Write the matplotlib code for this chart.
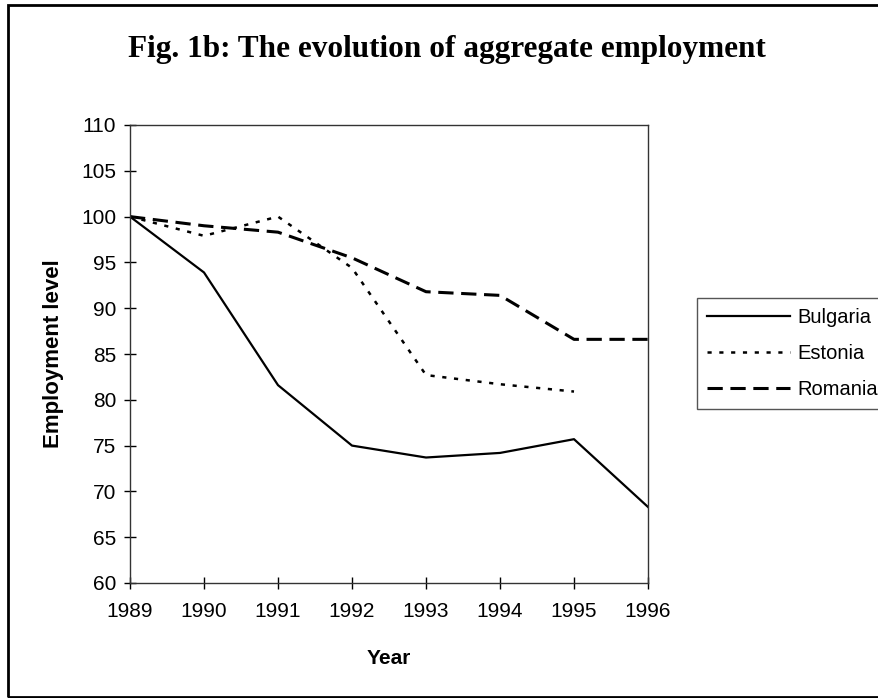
import matplotlib
matplotlib.use("Agg")
import matplotlib.pyplot as plt
from matplotlib.patches import Rectangle

# data
years = [1989, 1990, 1991, 1992, 1993, 1994, 1995, 1996]
bulgaria = [100, 93.9, 81.6, 75.0, 73.7, 74.2, 75.7, 68.3]
estonia_years = [1989, 1990, 1991, 1992, 1993, 1994, 1995]
estonia = [100, 97.9, 100.0, 94.4, 82.7, 81.7, 80.9]
romania = [100, 99.0, 98.3, 95.5, 91.8, 91.4, 86.6, 86.6]

plt.rcParams['font.family'] = ['Liberation Sans', 'DejaVu Sans']
plt.rcParams['lines.scale_dashes'] = False

W, H = 879, 698
fig = plt.figure(figsize=(W / 100, H / 100), dpi=100)
ax = fig.add_axes([130 / W, 1 - 583 / H, (648 - 130) / W, (583 - 125) / H])

ax.plot(years, bulgaria, color='black', lw=1.6, label='Bulgaria')
ax.plot(estonia_years, estonia, color='black', lw=1.8,
        linestyle=(0, (3, 5.5)), label='Estonia')
ax.plot(years, romania, color='black', lw=2.2,
        linestyle=(0, (11, 5.5)), label='Romania')

ax.set_xlim(1989, 1996)
ax.set_ylim(60, 110)
ax.set_xticks(years)
ax.set_yticks(range(60, 111, 5))
ax.tick_params(direction='inout', length=8, width=1, labelsize=15,
               colors='black')
ax.tick_params(axis='x', pad=10)
ax.tick_params(axis='y', pad=6)
for sp in ax.spines.values():
    sp.set_color('#333333')
    sp.set_linewidth(1.0)

ax.set_xlabel('Year', fontsize=15, fontweight='bold', labelpad=20)
ax.set_ylabel('Employment level', fontsize=16, fontweight='bold', labelpad=12)

fig.text(447 / W, 1 - 50 / H, 'Fig. 1b: The evolution of aggregate employment',
         ha='center', va='center', fontsize=22.5, fontweight='bold',
         family='Liberation Serif')

leg = ax.legend(loc='upper left', bbox_to_anchor=(697 / W, 1 - 298 / H),
                bbox_transform=fig.transFigure, borderaxespad=0,
                fontsize=14.5, handlelength=4.1, handletextpad=0.4,
                borderpad=0.5, labelspacing=0.85, fancybox=False,
                framealpha=1, edgecolor='#555555')
leg.get_frame().set_linewidth(1.0)

# outer chart border, running off the right edge
fig.add_artist(Rectangle((8 / W, 1.5 / H), 1.2, 1 - 6.5 / H,
                         transform=fig.transFigure, fill=False,
                         lw=2, ec='black'))

fig.savefig('out.png', dpi=100)
